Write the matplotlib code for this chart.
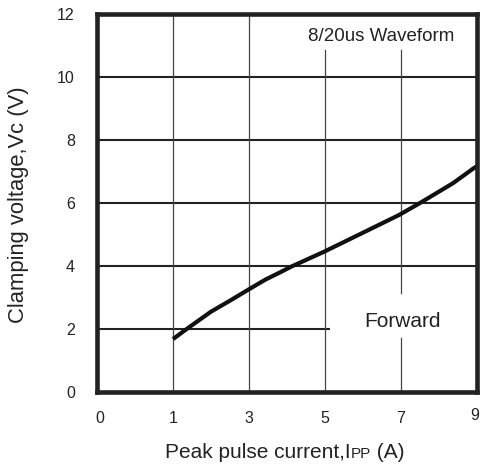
import matplotlib
matplotlib.use("Agg")
import matplotlib.pyplot as plt
import matplotlib.transforms as mtransforms
from matplotlib.offsetbox import TextArea, HPacker, AnchoredOffsetbox

plt.rcParams['font.family'] = ['Liberation Sans', 'DejaVu Sans']

# curve (x in A, y in V)
ipp = [1.0, 1.36, 2.0, 2.5, 2.97, 3.42, 3.82, 4.13, 4.97, 5.97, 6.95, 7.5, 8.37, 8.92, 9.0]
vc = [1.68, 2.0, 2.55, 2.9, 3.24, 3.56, 3.8, 3.99, 4.45, 5.04, 5.62, 6.0, 6.63, 7.11, 7.17]

x_ticks = [-1, 1, 3, 5, 7, 9]
x_tick_labels = ['0', '1', '3', '5', '7', '9']
y_ticks = [0, 2, 4, 6, 8, 10, 12]

hgrid = [2, 4, 6, 8, 10]

fig = plt.figure(figsize=(4.81, 4.72), dpi=100)
ax = fig.add_axes([97 / 481, 80 / 472, 380 / 481, 378 / 472])
ax.set_xlim(-1, 9)
ax.set_ylim(0, 12)

# grid: heavy horizontals, thin verticals with gaps round the notes
for v in hgrid:
    x_end = 5.13 if v == 2 else 9
    ax.plot([-1, x_end], [v, v], color='#222222', lw=1.5, solid_capstyle='butt')
ax.plot([1, 1], [0, 12], color='#444444', lw=0.9)
ax.plot([3, 3], [0, 12], color='#444444', lw=0.9)
ax.plot([5, 5], [0, 10.86], color='#444444', lw=0.9)
ax.plot([7, 7], [0, 1.71], color='#444444', lw=0.9)
ax.plot([7, 7], [3.14, 10.86], color='#444444', lw=0.9)

ax.plot(ipp, vc, color='#111111', lw=3.0, solid_capstyle='butt', solid_joinstyle='round')

ax.text(6.49, 11.15, '8/20us Waveform', fontsize=13.5, ha='center', va='baseline', color='#222222')
ax.text(7.05, 2.06, 'Forward', fontsize=15, ha='center', va='baseline', color='#222222')

for s in ax.spines.values():
    s.set_linewidth(3.3)
    s.set_color('#222222')

ax.set_xticks(x_ticks)
ax.set_xticklabels(x_tick_labels)
ax.set_yticks(y_ticks)
ax.tick_params(length=0, labelsize=11.5, colors='#222222')
ax.tick_params(axis='x', pad=14)
ax.tick_params(axis='y', pad=16)

# nudge the end labels like the original
xl = ax.get_xticklabels()
xl[0].set_transform(xl[0].get_transform() + mtransforms.ScaledTranslation(3 / 100, 0, fig.dpi_scale_trans))
xl[-1].set_transform(xl[-1].get_transform() + mtransforms.ScaledTranslation(-2 / 100, 3 / 100, fig.dpi_scale_trans))

fig.text(19 / 481, 1 - 205 / 472, 'Clamping voltage,Vc (V)', rotation=90,
         fontsize=15.8, ha='center', va='center', color='#222222')

# x label with the smaller PP
parts = [TextArea('Peak pulse current,I', textprops=dict(fontsize=15, color='#222222')),
         TextArea('PP', textprops=dict(fontsize=11, color='#222222')),
         TextArea(' (A)', textprops=dict(fontsize=15, color='#222222'))]
box = HPacker(children=parts, align='baseline', pad=0, sep=0)
anchored = AnchoredOffsetbox(loc='center', child=box, frameon=False, pad=0, borderpad=0,
                             bbox_to_anchor=(285 / 481, 1 - 452 / 472),
                             bbox_transform=fig.transFigure)
fig.add_artist(anchored)

fig.savefig('out.png', dpi=100)
